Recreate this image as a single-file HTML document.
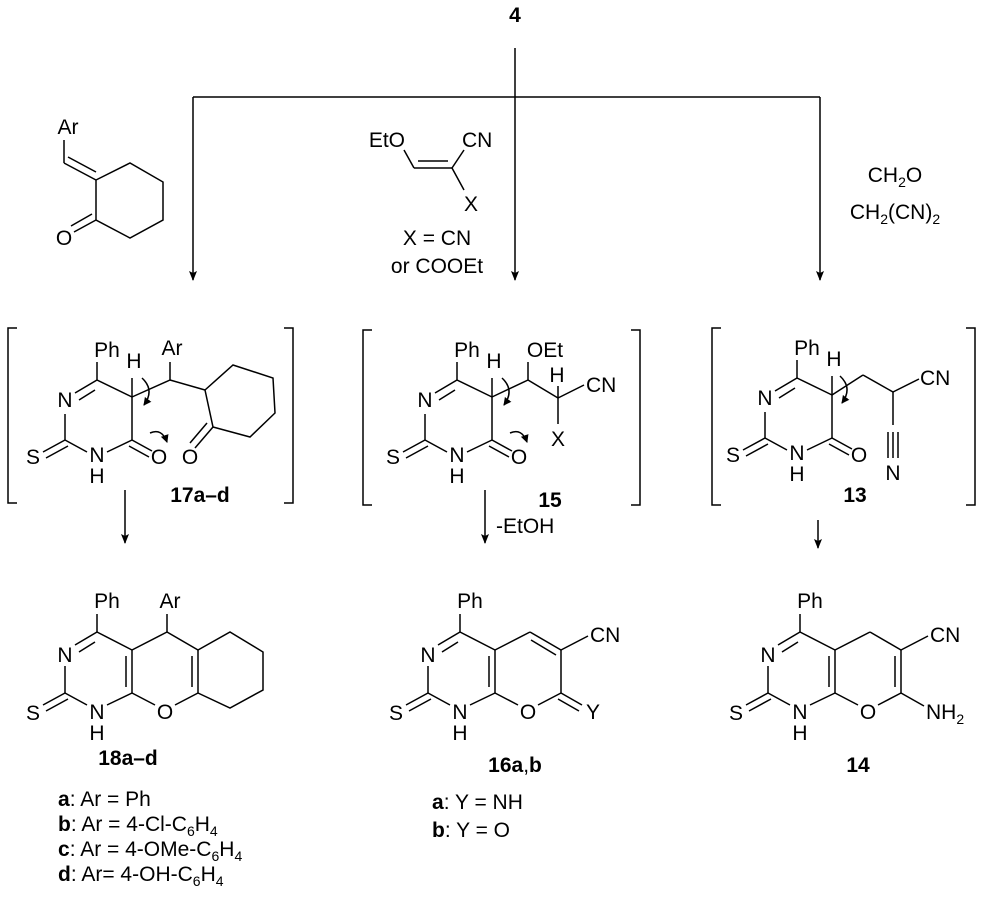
<!DOCTYPE html>
<html><head><meta charset="utf-8"><style>
html,body{margin:0;padding:0;background:#fff}
svg text{font-family:"Liberation Sans",Arial,sans-serif;font-size:21px;fill:#000}
.b{font-weight:bold}
</style></head><body>
<svg width="981" height="907" viewBox="0 0 981 907" xmlns="http://www.w3.org/2000/svg">
<defs>
<marker id="ah" markerWidth="10" markerHeight="10" refX="9" refY="5" orient="auto" markerUnits="userSpaceOnUse"><path d="M0,1 L10,5 L0,9 L2,5 Z" fill="#000"/></marker>
<marker id="ch" markerWidth="8" markerHeight="8" refX="7" refY="4" orient="auto" markerUnits="userSpaceOnUse"><path d="M0,0 L8,4 L0,8 Z" fill="#000"/></marker>
<g id="pyr" stroke="#000" stroke-width="1.5" fill="none">
<line x1="0" y1="0" x2="35" y2="17"/>
<line x1="35" y1="17" x2="35" y2="60"/>
<line x1="35" y1="60" x2="10" y2="72"/>
<line x1="-10" y1="72" x2="-32" y2="60"/>
<line x1="-32" y1="60" x2="-32" y2="34"/>
<line x1="-22" y1="13" x2="0" y2="0"/>
<line x1="-18" y1="20" x2="-2" y2="10"/>
<line x1="0" y1="0" x2="0" y2="-18"/>
<line x1="-32" y1="60" x2="-54" y2="72"/>
<line x1="-29" y1="66" x2="-51" y2="78"/>
<line x1="35" y1="60" x2="55" y2="71"/>
<line x1="32" y1="66" x2="52" y2="77"/>
<line x1="35" y1="17" x2="35" y2="-2"/>
</g>
<g id="pyrt">
<text x="-32" y="27" text-anchor="middle">N</text>
<text x="0" y="82" text-anchor="middle">N</text>
<text x="0" y="103" text-anchor="middle">H</text>
<text x="-64" y="84" text-anchor="middle">S</text>
<text x="62" y="84" text-anchor="middle">O</text>
<text x="10" y="-23" text-anchor="middle">Ph</text>
<text x="37" y="-12" text-anchor="middle">H</text>
</g>
<g id="prod" stroke="#000" stroke-width="1.5" fill="none">
<line x1="0" y1="0" x2="35" y2="18"/>
<line x1="35" y1="18" x2="35" y2="61"/>
<line x1="29" y1="24" x2="29" y2="55"/>
<line x1="35" y1="61" x2="10" y2="73"/>
<line x1="-10" y1="73" x2="-32" y2="61"/>
<line x1="-32" y1="61" x2="-32" y2="34"/>
<line x1="-22" y1="13" x2="0" y2="0"/>
<line x1="-18" y1="20" x2="-2" y2="10"/>
<line x1="0" y1="0" x2="0" y2="-18"/>
<line x1="-32" y1="61" x2="-54" y2="73"/>
<line x1="-29" y1="67" x2="-51" y2="79"/>
<line x1="35" y1="61" x2="58" y2="73"/>
<line x1="35" y1="18" x2="70" y2="0"/>
<line x1="101" y1="61" x2="78" y2="73"/>
<line x1="101" y1="18" x2="101" y2="61"/>
</g>
<g id="prodt">
<text x="-32" y="30" text-anchor="middle">N</text>
<text x="0" y="87" text-anchor="middle">N</text>
<text x="0" y="108" text-anchor="middle">H</text>
<text x="-64" y="88" text-anchor="middle">S</text>
<text x="68" y="87" text-anchor="middle">O</text>
<text x="10" y="-24" text-anchor="middle">Ph</text>
</g>
</defs>

<text x="515" y="22" text-anchor="middle" class="b">4</text>
<g stroke="#000" stroke-width="1.5" fill="none">
<line x1="515" y1="48" x2="515" y2="280" marker-end="url(#ah)"/>
<line x1="193" y1="97" x2="820" y2="97"/>
<line x1="193" y1="97" x2="193" y2="280" marker-end="url(#ah)"/>
<line x1="820" y1="97" x2="820" y2="280" marker-end="url(#ah)"/>
<line x1="64" y1="163" x2="64" y2="140"/>
<line x1="64" y1="163" x2="96" y2="180"/>
<line x1="68" y1="157" x2="96" y2="172"/>
<polyline points="96,180 130,163 163,182 163,220 130,238 96,220 96,180"/>
<line x1="96" y1="220" x2="74" y2="232"/>
<line x1="92" y1="214" x2="71" y2="226"/>
<line x1="404" y1="150" x2="414" y2="168"/>
<line x1="414" y1="168" x2="452" y2="168"/>
<line x1="418" y1="161" x2="448" y2="161"/>
<line x1="452" y1="168" x2="464" y2="150"/>
<line x1="452" y1="168" x2="464" y2="190"/>
</g>
<text x="68" y="134" text-anchor="middle">Ar</text>
<text x="64" y="245" text-anchor="middle">O</text>
<text x="405" y="147" text-anchor="end">EtO</text>
<text x="462" y="147">CN</text>
<text x="471" y="211" text-anchor="middle">X</text>
<text x="437" y="245" text-anchor="middle">X = CN</text>
<text x="437" y="273" text-anchor="middle">or COOEt</text>
<text x="895" y="182" text-anchor="middle">CH<tspan font-size="14" dy="5">2</tspan><tspan dy="-5">O</tspan></text>
<text x="895" y="219" text-anchor="middle">CH<tspan font-size="14" dy="5">2</tspan><tspan dy="-5">(CN)</tspan><tspan font-size="14" dy="5">2</tspan></text>

<g stroke="#000" stroke-width="1.5" fill="none">
<polyline points="17,328 8,328 8,503 17,503"/>
<polyline points="284,328 293,328 293,503 284,503"/>
<polyline points="372,330 363,330 363,505 372,505"/>
<polyline points="631,330 640,330 640,505 631,505"/>
<polyline points="721,328 712,328 712,505 721,505"/>
<polyline points="966,328 975,328 975,505 966,505"/>
</g>

<use href="#pyr" x="97" y="380"/><use href="#pyrt" x="97" y="380"/>
<g stroke="#000" stroke-width="1.5" fill="none">
<line x1="132" y1="397" x2="170" y2="380"/>
<line x1="170" y1="380" x2="170" y2="362"/>
<line x1="170" y1="380" x2="205" y2="390"/>
<polyline points="205,390 233,365 273,378 275,413 250,437 213,427 205,390"/>
<line x1="213" y1="427" x2="195" y2="448"/>
<line x1="207" y1="423" x2="190" y2="443"/>
<path d="M142,378 Q155,390 144,405" marker-end="url(#ch)"/>
<path d="M150,433 Q162,428 167,442" marker-end="url(#ch)"/>
<line x1="125" y1="490" x2="125" y2="543" marker-end="url(#ah)"/>
</g>
<text x="172" y="355" text-anchor="middle">Ar</text>
<text x="190" y="464" text-anchor="middle">O</text>
<text x="200" y="502" class="b" text-anchor="middle">17a–d</text>

<use href="#pyr" x="457" y="380"/><use href="#pyrt" x="457" y="380"/>
<g stroke="#000" stroke-width="1.5" fill="none">
<line x1="492" y1="397" x2="528" y2="380"/>
<line x1="528" y1="380" x2="528" y2="362"/>
<line x1="528" y1="380" x2="558" y2="398"/>
<line x1="558" y1="398" x2="558" y2="386"/>
<line x1="558" y1="398" x2="584" y2="385"/>
<line x1="558" y1="398" x2="558" y2="424"/>
<path d="M502,378 Q515,390 504,405" marker-end="url(#ch)"/>
<path d="M510,433 Q522,428 527,442" marker-end="url(#ch)"/>
<line x1="485" y1="490" x2="485" y2="543" marker-end="url(#ah)"/>
</g>
<text x="545" y="357" text-anchor="middle">OEt</text>
<text x="557" y="382" text-anchor="middle">H</text>
<text x="586" y="392">CN</text>
<text x="558" y="446" text-anchor="middle">X</text>
<text x="550" y="507" class="b" text-anchor="middle">15</text>
<text x="496" y="533">-EtOH</text>

<use href="#pyr" x="797" y="378"/><use href="#pyrt" x="797" y="378"/>
<g stroke="#000" stroke-width="1.5" fill="none">
<line x1="832" y1="395" x2="863" y2="375"/>
<line x1="863" y1="375" x2="893" y2="392"/>
<line x1="893" y1="392" x2="919" y2="379"/>
<line x1="893" y1="392" x2="893" y2="425"/>
<line x1="888" y1="432" x2="888" y2="458"/>
<line x1="893" y1="432" x2="893" y2="458"/>
<line x1="898" y1="432" x2="898" y2="458"/>
<path d="M840,376 Q853,388 842,403" marker-end="url(#ch)"/>
<line x1="818" y1="520" x2="818" y2="548" marker-end="url(#ah)"/>
</g>
<text x="920" y="385">CN</text>
<text x="893" y="480" text-anchor="middle">N</text>
<text x="855" y="502" class="b" text-anchor="middle">13</text>

<use href="#prod" x="97" y="632"/><use href="#prodt" x="97" y="632"/>
<g stroke="#000" stroke-width="1.5" fill="none">
<line x1="167" y1="632" x2="167" y2="614"/>
<line x1="167" y1="632" x2="198" y2="650"/>
<line x1="192" y1="656" x2="192" y2="687"/>
<polyline points="198,650 230,632 263,652 263,690 230,708 198,693"/>
</g>
<text x="170" y="608" text-anchor="middle">Ar</text>
<text x="128" y="765" class="b" text-anchor="middle">18a–d</text>
<text x="58" y="806"><tspan class="b">a</tspan>: Ar = Ph</text>
<text x="58" y="831"><tspan class="b">b</tspan>: Ar = 4-Cl-C<tspan font-size="14" dy="5">6</tspan><tspan dy="-5">H</tspan><tspan font-size="14" dy="5">4</tspan></text>
<text x="58" y="856"><tspan class="b">c</tspan>: Ar = 4-OMe-C<tspan font-size="14" dy="5">6</tspan><tspan dy="-5">H</tspan><tspan font-size="14" dy="5">4</tspan></text>
<text x="58" y="881"><tspan class="b">d</tspan>: Ar= 4-OH-C<tspan font-size="14" dy="5">6</tspan><tspan dy="-5">H</tspan><tspan font-size="14" dy="5">4</tspan></text>

<use href="#prod" x="460" y="632"/><use href="#prodt" x="460" y="632"/>
<g stroke="#000" stroke-width="1.5" fill="none">
<line x1="530" y1="632" x2="561" y2="650"/>
<line x1="531" y1="640" x2="556" y2="655"/>
<line x1="561" y1="650" x2="588" y2="636"/>
<line x1="561" y1="693" x2="582" y2="705"/>
<line x1="558" y1="699" x2="579" y2="711"/>
</g>
<text x="590" y="642">CN</text>
<text x="593" y="719" text-anchor="middle">Y</text>
<text x="515" y="772" class="b" text-anchor="middle">16a<tspan font-weight="normal">,</tspan>b</text>
<text x="432" y="809"><tspan class="b">a</tspan>: Y = NH</text>
<text x="432" y="837"><tspan class="b">b</tspan>: Y = O</text>

<use href="#prod" x="800" y="632"/><use href="#prodt" x="800" y="632"/>
<g stroke="#000" stroke-width="1.5" fill="none">
<line x1="870" y1="632" x2="901" y2="650"/>
<line x1="895" y1="656" x2="895" y2="687"/>
<line x1="901" y1="650" x2="928" y2="636"/>
<line x1="901" y1="693" x2="924" y2="706"/>
</g>
<text x="930" y="642">CN</text>
<text x="926" y="719">NH<tspan font-size="14" dy="5">2</tspan></text>
<text x="858" y="772" class="b" text-anchor="middle">14</text>
</svg>
</body></html>
